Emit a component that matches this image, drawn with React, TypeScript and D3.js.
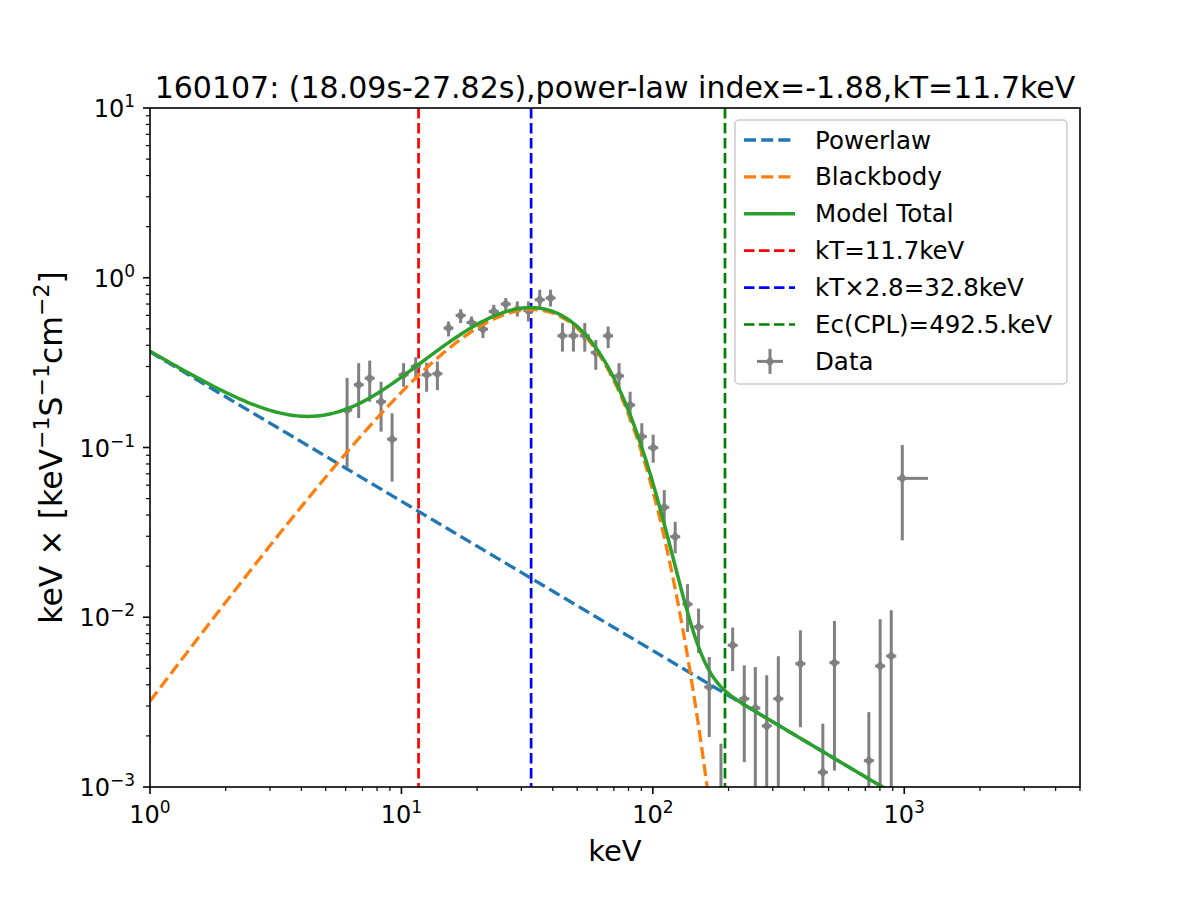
import React from "react";
import * as d3 from "d3";

// ---------- data ----------
const titleText = "160107: (18.09s-27.82s),power-law index=-1.88,kT=11.7keV";
const xTickExps = [0, 1, 2, 3];
const yTickExps = [-3, -2, -1, 0, 1];

// observed points (keV, keV*N)
const energy = [6.08, 6.76, 7.48, 8.3, 9.18, 10.2, 11.4, 12.6, 13.9, 15.4, 17.2, 19.0, 21.1, 23.3, 26.0, 28.9, 32.0, 35.5, 39.2, 43.7, 48.3, 53.6, 59.3, 66.4, 73.4, 81.2, 90.4, 100.3, 111, 122.7, 137.4, 152, 167.6, 186.6, 207.7, 231, 255.6, 283.8, 315.6, 386.3, 474.4, 527.6, 723, 801.9, 887.6, 982];
const eLow = [5.81, 6.46, 7.14, 7.93, 8.77, 9.74, 10.89, 12.03, 13.27, 14.71, 16.43, 18.15, 20.15, 22.25, 24.83, 27.6, 30.56, 33.9, 37.44, 41.73, 46.13, 51.19, 56.63, 63.41, 70.1, 77.55, 86.33, 95.79, 106.0, 117.2, 131.2, 145.2, 160.1, 178.2, 198.4, 220.6, 244.1, 271.0, 301.4, 368.9, 453.1, 503.9, 690.5, 765.8, 847.7, 937.6];
const eHigh = [6.37, 7.08, 7.83, 8.69, 9.61, 10.68, 11.94, 13.19, 14.55, 16.12, 18.01, 19.89, 22.09, 24.4, 27.22, 30.26, 33.5, 37.17, 41.04, 45.75, 50.57, 56.12, 62.09, 69.52, 76.85, 85.02, 94.65, 105.0, 116.2, 128.5, 143.9, 159.1, 175.5, 195.4, 217.5, 241.9, 267.6, 297.1, 330.4, 404.5, 496.7, 552.4, 757.0, 839.6, 929.3, 1242];
const flux = [0.166, 0.234, 0.256, 0.186, 0.112, 0.268, 0.3, 0.268, 0.272, 0.505, 0.6, 0.545, 0.498, 0.633, 0.7, 0.653, 0.639, 0.742, 0.759, 0.455, 0.455, 0.455, 0.362, 0.455, 0.264, 0.178, 0.116, 0.0997, 0.0444, 0.0298, 0.01193, 0.00877, 0.00388, 0.0007, 0.00684, 0.00331, 0.00292, 0.00229, 0.00331, 0.00533, 0.00122, 0.0054, 0.00143, 0.00516, 0.00591, 0.0658];
const fluxLow = [0.0767, 0.149, 0.186, 0.124, 0.0629, 0.228, 0.25, 0.213, 0.218, 0.451, 0.541, 0.498, 0.441, 0.578, 0.641, 0.591, 0.552, 0.662, 0.677, 0.367, 0.367, 0.367, 0.287, 0.385, 0.218, 0.142, 0.0883, 0.0813, 0.0357, 0.0238, 0.00819, 0.00615, 0.00197, 0.0001, 0.00482, 0.0014, 0.0001, 0.0001, 0.0001, 0.00225, 0.0001, 0.00125, 0.0001, 0.0001, 0.0001, 0.0284];
const fluxHigh = [0.257, 0.314, 0.325, 0.244, 0.159, 0.314, 0.34, 0.316, 0.321, 0.552, 0.653, 0.591, 0.541, 0.693, 0.759, 0.725, 0.725, 0.85, 0.85, 0.541, 0.541, 0.541, 0.43, 0.516, 0.314, 0.213, 0.139, 0.119, 0.0561, 0.0365, 0.01567, 0.01125, 0.00583, 0.0018, 0.00869, 0.00521, 0.00509, 0.00455, 0.00589, 0.00838, 0.00236, 0.00951, 0.00276, 0.00973, 0.011, 0.1035];

// model parameters
const plIndex = -1.88;
const plNorm = 0.366; // keV*N at 1 keV
const kT = 11.7;
const bbNorm = 2.856e-4;

// vertical marker lines
const vLineValues = [11.7, 32.8, 193.6];
const vLineColors = ["#ff0000", "#0000ff", "#008000"];

const legendLabels = ["Powerlaw", "Blackbody", "Model Total", "kT=11.7keV", "kT\u00d72.8=32.8keV", "Ec(CPL)=492.5.keV", "Data"];

// ---------- layout ----------
const W = 1200, H = 900;
const L = 150, R = 1080, T = 108, B = 787;
const FONT = "DejaVu Sans, Verdana, sans-serif";

const x = d3.scaleLog().domain([1, 5000]).range([L, R]);
const y = d3.scaleLog().domain([1e-3, 10]).range([B, T]);

const pl = (e: number) => plNorm * Math.pow(e, plIndex + 1);
const bb = (e: number) => (bbNorm * e * e * e) / (Math.exp(e / kT) - 1);

const grid = d3.range(0, 500).map((i) => Math.pow(10, (i / 499) * Math.log10(5000)));
const safe = (v: number) => Math.max(v, 1e-12);
const lineGen = d3
  .line<number[]>()
  .x((d) => x(d[0]))
  .y((d) => y(safe(d[1])));

const plPath = lineGen(grid.map((e) => [e, pl(e)]))!;
const bbPath = lineGen(grid.map((e) => [e, bb(e)]))!;
const totPath = lineGen(grid.map((e) => [e, pl(e) + bb(e)]))!;

const TICKFS = 24;

function Pow10({ exp, x0, y0, anchor }: { exp: number; x0: number; y0: number; anchor: "middle" | "end" }) {
  const s = exp < 0 ? "\u2212" + Math.abs(exp) : String(exp);
  return (
    <text x={x0} y={y0} textAnchor={anchor} fontFamily={FONT} fontSize={TICKFS} fill="#000">
      10
      <tspan dy={-10} fontSize={17}>
        {s}
      </tspan>
    </text>
  );
}

const DASH = "12,5.2";
const VDASH = "10.5,4.5";

export default function App() {
  const xMinor: number[] = [];
  for (let d = 0; d <= 3; d++) for (let k = 2; k <= 9; k++) {
    const v = k * Math.pow(10, d);
    if (v <= 5000) xMinor.push(v);
  }
  const yMinor: number[] = [];
  for (let d = -3; d <= 0; d++) for (let k = 2; k <= 9; k++) yMinor.push(k * Math.pow(10, d));

  const legX = 735, legY = 120, legW = 332, legH = 264;
  const rowY = (i: number) => 140 + i * 36.9;

  return (
    <svg width={W} height={H} style={{ position: "absolute", left: 0, top: 0, background: "#fff" }}>
      <defs>
        <clipPath id="plotclip">
          <rect x={L} y={T} width={R - L} height={B - T} />
        </clipPath>
      </defs>
      <rect x={0} y={0} width={W} height={H} fill="#fff" />

      <g clipPath="url(#plotclip)">
        {vLineValues.map((v, i) => (
          <line key={"v" + i} x1={x(v)} x2={x(v)} y1={T} y2={B} stroke={vLineColors[i]} strokeWidth={2.7} strokeDasharray={VDASH} />
        ))}
        {energy.map((e, i) => (
          <g key={"d" + i} stroke="#808080" strokeWidth={3}>
            <line x1={x(e)} x2={x(e)} y1={y(fluxLow[i])} y2={y(fluxHigh[i])} />
            <line x1={x(eLow[i])} x2={x(eHigh[i])} y1={y(flux[i])} y2={y(flux[i])} />
            <path
              d={`M${x(e)},${y(flux[i]) - 5.5}L${x(e) + 4.5},${y(flux[i])}L${x(e)},${y(flux[i]) + 5.5}L${x(e) - 4.5},${y(flux[i])}Z`}
              fill="#808080"
              stroke="none"
            />
          </g>
        ))}
        <path d={plPath} fill="none" stroke="#1f77b4" strokeWidth={3.3} strokeDasharray={DASH} />
        <path d={bbPath} fill="none" stroke="#ff7f0e" strokeWidth={3.3} strokeDasharray={DASH} />
        <path d={totPath} fill="none" stroke="#2ca02c" strokeWidth={3.5} />
      </g>

      {/* frame */}
      <rect x={L} y={T} width={R - L} height={B - T} fill="none" stroke="#000" strokeWidth={1.6} />

      {/* x ticks */}
      {xTickExps.map((p) => (
        <g key={"xt" + p}>
          <line x1={x(Math.pow(10, p))} x2={x(Math.pow(10, p))} y1={B} y2={B + 7} stroke="#000" strokeWidth={1.6} />
          <Pow10 exp={p} x0={x(Math.pow(10, p))} y0={823} anchor="middle" />
        </g>
      ))}
      {xMinor.map((v, i) => (
        <line key={"xm" + i} x1={x(v)} x2={x(v)} y1={B} y2={B + 4} stroke="#000" strokeWidth={1.2} />
      ))}

      {/* y ticks */}
      {yTickExps.map((p) => (
        <g key={"yt" + p}>
          <line x1={L - 7} x2={L} y1={y(Math.pow(10, p))} y2={y(Math.pow(10, p))} stroke="#000" strokeWidth={1.6} />
          <Pow10 exp={p} x0={135} y0={y(Math.pow(10, p)) + 9} anchor="end" />
        </g>
      ))}
      {yMinor.map((v, i) => (
        <line key={"ym" + i} x1={L - 4} x2={L} y1={y(v)} y2={y(v)} stroke="#000" strokeWidth={1.2} />
      ))}

      {/* title & labels */}
      <text x={(L + R) / 2} y={98} textAnchor="middle" fontFamily={FONT} fontSize={30} fill="#000">
        {titleText}
      </text>
      <text x={(L + R) / 2} y={861} textAnchor="middle" fontFamily={FONT} fontSize={29} fill="#000">
        keV
      </text>
      <text transform={`translate(62,${(T + B) / 2}) rotate(-90)`} textAnchor="middle" fontFamily={FONT} fontSize={31.5} fill="#000">
        keV × [keV
        <tspan dy={-13} fontSize={22}>
          −1
        </tspan>
        <tspan dy={13}>S</tspan>
        <tspan dy={-13} fontSize={22}>
          −1
        </tspan>
        <tspan dy={13}>cm</tspan>
        <tspan dy={-13} fontSize={22}>
          −2
        </tspan>
        <tspan dy={13}>]</tspan>
      </text>

      {/* legend */}
      <rect x={legX} y={legY} width={legW} height={legH} rx={4} fill="#fff" fillOpacity={0.8} stroke="#cccccc" strokeWidth={1.5} />
      {legendLabels.map((lab, i) => {
        const cy = rowY(i);
        let handle: React.ReactNode = null;
        if (i === 0) handle = <line x1={744} x2={795} y1={cy} y2={cy} stroke="#1f77b4" strokeWidth={3.3} strokeDasharray={DASH} />;
        else if (i === 1) handle = <line x1={744} x2={795} y1={cy} y2={cy} stroke="#ff7f0e" strokeWidth={3.3} strokeDasharray={DASH} />;
        else if (i === 2) handle = <line x1={744} x2={795} y1={cy} y2={cy} stroke="#2ca02c" strokeWidth={3.5} />;
        else if (i <= 5) handle = <line x1={744} x2={795} y1={cy} y2={cy} stroke={vLineColors[i - 3]} strokeWidth={2.7} strokeDasharray={VDASH} />;
        else
          handle = (
            <g stroke="#808080" strokeWidth={3}>
              <line x1={757} x2={783} y1={cy} y2={cy} />
              <line x1={770} x2={770} y1={cy - 12.5} y2={cy + 12.5} />
              <path d={`M770,${cy - 5.5}L774.5,${cy}L770,${cy + 5.5}L765.5,${cy}Z`} fill="#808080" stroke="none" />
            </g>
          );
        return (
          <g key={"lg" + i}>
            {handle}
            <text x={815} y={cy + 8.5} fontFamily={FONT} fontSize={24.5} fill="#000">
              {lab}
            </text>
          </g>
        );
      })}
    </svg>
  );
}
